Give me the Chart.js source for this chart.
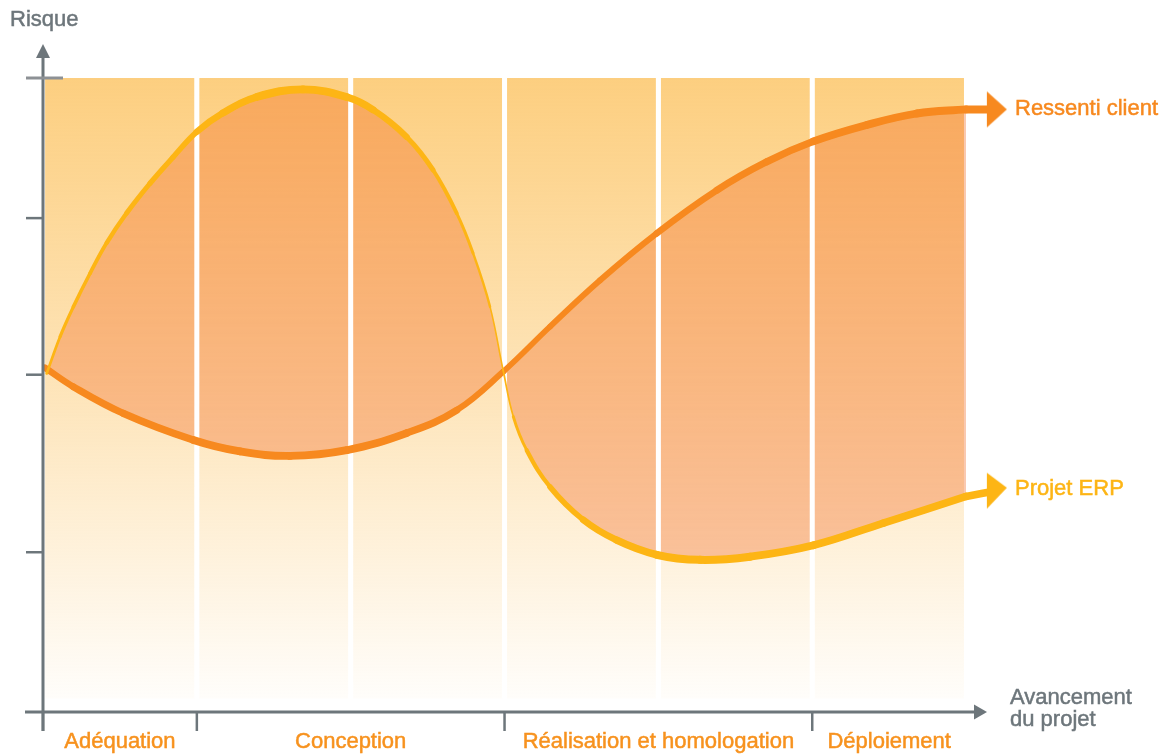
<!DOCTYPE html>
<html>
<head>
<meta charset="utf-8">
<script src="https://cdn.jsdelivr.net/npm/chart.js@4/dist/chart.umd.min.js"></script>
<style>
    body { margin: 0; background: #fff; }
    #wrap { width: 1161px; height: 755px; position: relative; }
</style>
</head>
<body>
<div id="wrap"><canvas id="risk-chart"></canvas></div>
<script>

// data (x = project progress in phase units, y = risk 0..100)
const phases = ['Adéquation', 'Conception', 'Réalisation et homologation', 'Déploiement'];
const phaseBounds = [0, 1, 3, 5, 6];
const columnCenters = [0.5, 1.5, 2.5, 3.5, 4.5, 5.5];
const columnEdges = [1, 2, 3, 4, 5];
const yTicks = [25.2, 53.2, 77.9, 100];

const seriesNames = ['Projet ERP', 'Ressenti client'];

const erpX = [0.024, 0.111, 0.197, 0.306, 0.414, 0.544, 0.696, 0.845, 0.999, 1.170, 1.389, 1.690, 1.974, 2.145,
              2.364, 2.535, 2.689, 2.795, 2.906, 2.991, 3.057, 3.144, 3.296, 3.512, 3.729, 3.989, 4.271, 4.596,
              5.008, 5.462, 6.0];
const erpY = [53.4, 59.2, 63.9, 69.2, 74.0, 78.7, 83.4, 87.5, 91.5, 94.5, 97.0, 98.2, 97.0, 95.0,
              90.7, 85.5, 78.7, 72.4, 63.9, 53.9, 46.6, 41.3, 35.5, 30.3, 27.1, 24.8, 24.0, 24.5,
              26.3, 29.8, 34.0];
const erpTailX = [6.0, 6.2];
const erpTailY = [34.0, 34.9];

const clientX = [0.013, 0.197, 0.522, 0.977, 1.281, 1.606, 1.974, 2.364, 2.689, 2.992, 3.296, 3.621, 3.989,
                 4.380, 4.705, 5.007, 5.355, 5.680, 6.0];
const clientY = [54.3, 51.3, 47.1, 42.9, 41.1, 40.4, 41.3, 44.0, 47.6, 53.7, 60.8, 68.1, 75.5,
                 82.3, 86.8, 90.0, 92.6, 94.4, 95.05];
const clientTailX = [6.0, 6.2];
const clientTailY = [95.05, 95.05];

// layout / styles
const COL_RANGE = [2.2, 100];
const ORANGE = '#f7891f';
const YELLOW = '#fdb515';
const GREY = '#6d767b';
const LABEL_ORANGE = '#f7921e';
const FONT = '22px "Liberation Sans", Arial, sans-serif';


function pts(xs, ys) {
    return xs.map((x, i) => ({ x: x, y: ys[i] }));
}

// calligraphic pen: thin where the curve is steep
function penWidth(c) {
    const dx = c.p1.x - c.p0.x, dy = c.p1.y - c.p0.y;
    const w = 8 * Math.abs(dx) / Math.hypot(dx, dy);
    return Math.max(1.4, w);
}

function arrowHead(color, lift) {
    const cv = document.createElement('canvas');
    cv.width = 22; cv.height = 38;
    const c = cv.getContext('2d');
    c.fillStyle = color;
    c.beginPath();
    c.moveTo(1, 1);
    c.lineTo(21, 19 - lift);
    c.lineTo(1, 37);
    c.closePath();
    c.fill();
    return cv;
}

function columnGradient(ctx) {
    const chart = ctx.chart;
    const area = chart.chartArea;
    if (!area) return 'rgba(252,196,100,0.5)';
    const y = chart.scales.y;
    const g = chart.ctx.createLinearGradient(0, y.getPixelForValue(COL_RANGE[1]), 0, y.getPixelForValue(COL_RANGE[0]));
    g.addColorStop(0, 'rgba(252,196,100,0.82)');
    g.addColorStop(0.5, 'rgba(252,196,100,0.45)');
    g.addColorStop(1, 'rgba(252,196,100,0.03)');
    return g;
}

function label(ctx, text, x, y) {
    ctx.fillText(text, x, y);
    ctx.strokeText(text, x, y);
}


const lineBase = {
    type: 'line',
    tension: 0.4,
    pointRadius: 0,
    borderCapStyle: 'round',
    fill: false
};

// white gaps between the phase columns, over the fill but under the curves
const gapsPlugin = {
    id: 'columnGaps',
    afterDatasetDraw(chart, args) {
        if (args.index !== 4) return;
        const ctx = chart.ctx;
        const xs = chart.scales.x, ys = chart.scales.y;
        const top = ys.getPixelForValue(COL_RANGE[1]);
        const bottom = ys.getPixelForValue(COL_RANGE[0]);
        ctx.save();
        ctx.fillStyle = '#fff';
        columnEdges.forEach(v => {
            const px = xs.getPixelForValue(v);
            ctx.fillRect(px - 2.5, top, 5, bottom - top);
        });
        ctx.restore();
    }
};

const axesPlugin = {
    id: 'axesAndLabels',
    afterDatasetsDraw(chart) {
        const ctx = chart.ctx;
        const xs = chart.scales.x, ys = chart.scales.y;
        const x0 = xs.getPixelForValue(0);
        const y0 = ys.getPixelForValue(0);

        ctx.save();
        ctx.strokeStyle = GREY;
        ctx.fillStyle = GREY;
        ctx.lineWidth = 3;

        // y axis + arrow
        ctx.beginPath();
        ctx.moveTo(x0, y0 + 19);
        ctx.lineTo(x0, 56);
        ctx.stroke();
        ctx.beginPath();
        ctx.moveTo(x0, 44);
        ctx.lineTo(x0 + 7, 58);
        ctx.lineTo(x0 - 7, 58);
        ctx.closePath();
        ctx.fill();

        // x axis + arrow
        ctx.beginPath();
        ctx.moveTo(25, y0);
        ctx.lineTo(976, y0);
        ctx.stroke();
        ctx.beginPath();
        ctx.moveTo(987, y0);
        ctx.lineTo(974, y0 - 7.5);
        ctx.lineTo(974, y0 + 7.5);
        ctx.closePath();
        ctx.fill();

        // phase ticks
        ctx.lineWidth = 2.5;
        phaseBounds.slice(0, 4).forEach(v => {
            const px = xs.getPixelForValue(v);
            ctx.beginPath();
            ctx.moveTo(px, y0);
            ctx.lineTo(px, y0 + 19);
            ctx.stroke();
        });

        // risk ticks
        yTicks.forEach((v, i) => {
            const py = ys.getPixelForValue(v);
            const top = i === yTicks.length - 1;
            ctx.strokeStyle = top ? '#8d9195' : GREY;
            ctx.lineWidth = top ? 3 : 2.5;
            ctx.beginPath();
            ctx.moveTo(26, py);
            ctx.lineTo(top ? 63 : x0, py);
            ctx.stroke();
        });

        // texts
        ctx.font = FONT;
        ctx.lineWidth = 0.5;
        ctx.textBaseline = 'middle';
        ctx.textAlign = 'left';
        ctx.fillStyle = ctx.strokeStyle = GREY;
        label(ctx, 'Risque', 10, 20);
        label(ctx, 'Avancement', 1010, 698);
        label(ctx, 'du projet', 1010, 720);

        ctx.fillStyle = ctx.strokeStyle = ORANGE;
        label(ctx, seriesNames[1], 1015, ys.getPixelForValue(clientTailY[1]));
        ctx.fillStyle = ctx.strokeStyle = YELLOW;
        label(ctx, seriesNames[0], 1015, ys.getPixelForValue(erpTailY[1]) - 2);

        ctx.textAlign = 'center';
        ctx.fillStyle = ctx.strokeStyle = LABEL_ORANGE;
        phases.forEach((p, i) => {
            const mid = (phaseBounds[i] + phaseBounds[i + 1]) / 2;
            label(ctx, p, xs.getPixelForValue(mid), 742);
        });
        ctx.restore();
    }
};


const chart = new Chart(document.getElementById('risk-chart'), {
    type: 'line',
    data: {
        datasets: [
            // strokes
            { ...lineBase, label: seriesNames[0], data: pts(erpX, erpY), borderColor: YELLOW, order: 0,
              segment: { borderWidth: penWidth } },
            { ...lineBase, label: seriesNames[1], data: pts(clientX, clientY), borderColor: ORANGE, order: 1,
              segment: { borderWidth: penWidth } },
            // tails with arrow heads
            { ...lineBase, label: 'erp-tail', data: pts(erpTailX, erpTailY), borderColor: YELLOW, borderWidth: 7.6, order: 0,
              pointStyle: arrowHead(YELLOW, 3), pointRadius: c => c.dataIndex === 1 ? 10 : 0 },
            { ...lineBase, label: 'client-tail', data: pts(clientTailX, clientTailY), borderColor: ORANGE, borderWidth: 8, order: 1,
              pointStyle: arrowHead(ORANGE, 0), pointRadius: c => c.dataIndex === 1 ? 10 : 0 },
            // gap between the two curves
            { ...lineBase, label: 'erp-fill', data: pts(erpX, erpY), borderWidth: 0, order: 3 },
            { ...lineBase, label: 'client-fill', data: pts(clientX, clientY), borderWidth: 0, order: 3,
              fill: { target: 4 }, backgroundColor: 'rgba(239,97,22,0.34)' },
            // phase columns
            { type: 'bar', label: 'columns', order: 10,
              data: columnCenters.map(c => ({ x: c, y: COL_RANGE })),
              backgroundColor: columnGradient, borderWidth: 0, barThickness: 149 }
        ]
    },
    options: {
        responsive: true,
        maintainAspectRatio: false,
        animation: false,
        layout: { padding: { left: 43, right: 118, top: 78, bottom: 43 } },
        plugins: { legend: { display: false }, tooltip: { enabled: false } },
        scales: {
            x: { type: 'linear', min: 0, max: 6.5, offset: false, display: false },
            y: { type: 'linear', min: 0, max: 100, display: false }
        }
    },
    plugins: [gapsPlugin, axesPlugin]
});

</script>
</body>
</html>
